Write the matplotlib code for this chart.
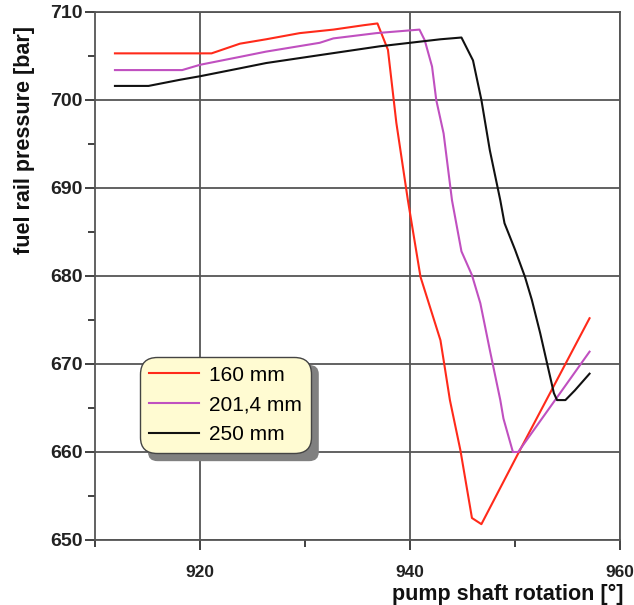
import matplotlib
matplotlib.use("Agg")
import matplotlib.pyplot as plt
from matplotlib.patches import FancyBboxPatch
from matplotlib.ticker import MultipleLocator

plt.rcParams['font.family'] = ['Liberation Sans', 'DejaVu Sans']

labels = ["160 mm", "201,4 mm", "250 mm"]
colors = ["#ff2a1a", "#c050c0", "#111111"]

x_160 = [911.9, 921.1, 923.8, 926.3, 929.5, 932.7, 935.6, 936.9, 937.9, 938.7, 939.8,
         941.0, 942.9, 943.3, 943.8, 944.8, 945.9, 946.8, 950.2, 957.1]
y_160 = [705.3, 705.3, 706.4, 706.9, 707.6, 708.0, 708.5, 708.7, 705.7, 697.4, 688.6,
         679.9, 672.7, 669.7, 665.9, 660.2, 652.5, 651.8, 659.6, 675.2]

x_201 = [911.9, 918.3, 920.0, 923.8, 926.3, 931.4, 932.7, 936.8, 940.9, 941.4, 942.1,
         942.5, 943.2, 944.0, 944.9, 945.9, 946.7, 947.6, 948.6, 948.9, 949.8, 950.3, 954.0, 957.1]
y_201 = [703.4, 703.4, 704.0, 704.9, 705.5, 706.5, 707.0, 707.6, 708.0, 706.8, 703.8,
         700.0, 696.2, 688.6, 682.8, 680.1, 676.9, 671.6, 665.9, 663.8, 660.0, 660.0, 666.2, 671.4]

x_250 = [911.9, 915.1, 918.1, 920.0, 923.8, 926.3, 931.4, 937.1, 942.9, 944.9, 946.0,
         946.8, 947.6, 948.6, 949.0, 950.0, 950.95, 951.6, 952.4, 953.7, 954.0, 954.8, 955.7, 957.1]
y_250 = [701.6, 701.6, 702.3, 702.7, 703.6, 704.2, 705.1, 706.1, 706.9, 707.1, 704.5,
         700.0, 694.3, 688.6, 686.0, 683.0, 679.9, 677.3, 673.5, 666.7, 665.9, 665.9, 667.0, 668.9]

xs = [x_160, x_201, x_250]
ys = [y_160, y_201, y_250]

W, H = 634, 605
fig = plt.figure(figsize=(W / 100, H / 100), dpi=100)
ax = fig.add_axes([95 / W, 1 - 540 / H, (620 - 95) / W, (540 - 12) / H])

for x, y, c, lab in zip(xs, ys, colors, labels):
    ax.plot(x, y, color=c, lw=1.5, label=lab, zorder=3)

ax.set_xlim(910, 960)
ax.set_ylim(650, 710)
ax.xaxis.set_major_locator(MultipleLocator(20))
ax.xaxis.set_minor_locator(MultipleLocator(10))
ax.yaxis.set_major_locator(MultipleLocator(10))
ax.yaxis.set_minor_locator(MultipleLocator(5))
ax.grid(True, which='major', color='#555555', lw=1.3, zorder=1)
for s in ax.spines.values():
    s.set_color('#555555')
    s.set_linewidth(1.3)
ax.tick_params(which='both', direction='out', color='#333333', width=1.3)
ax.tick_params(which='major', length=7)
ax.tick_params(which='minor', length=5)
ax.tick_params(axis='x', labelsize=12.5, pad=11, labelcolor='#222222')
ax.tick_params(axis='y', labelsize=14, pad=2, labelcolor='#222222')
ax.set_xticks([920, 940, 960])
for t in ax.get_yticklabels() + ax.get_xticklabels():
    t.set_fontweight('bold')

fig.text(25 / W, 1 - 140 / H, "fuel rail pressure [bar]", rotation=90, ha='center',
         va='center', fontsize=15.5, fontweight='bold', color='#111111')
fig.text(624 / W, 1 - 594 / H, "pump shaft rotation [°]", ha='right', va='center',
         fontsize=15.5, fontweight='bold', color='#111111')

leg = ax.legend(loc='upper left', bbox_to_anchor=(140 / W, 1 - 357 / H),
                bbox_transform=fig.transFigure, borderaxespad=0, fontsize=15,
                handlelength=2.4, handletextpad=0.5, labelspacing=0.52,
                borderpad=0.42, fancybox=True, framealpha=1)
frame = leg.get_frame()
frame.set_facecolor('#fffbd2')
frame.set_edgecolor('#444444')
frame.set_linewidth(1.0)
frame.set_boxstyle('round,pad=0.0,rounding_size=0.8')
leg.set_zorder(6)

fig.canvas.draw()
bb = leg.get_window_extent()
off = 8
shadow = FancyBboxPatch(((bb.x0 + off) / W, (bb.y0 - off) / H), bb.width / W, bb.height / H,
                        boxstyle='round,pad=0,rounding_size=0.015',
                        transform=fig.transFigure, facecolor='#808080',
                        edgecolor='none', clip_on=False, zorder=5)
ax.add_patch(shadow)

fig.savefig("out.png", dpi=100)
